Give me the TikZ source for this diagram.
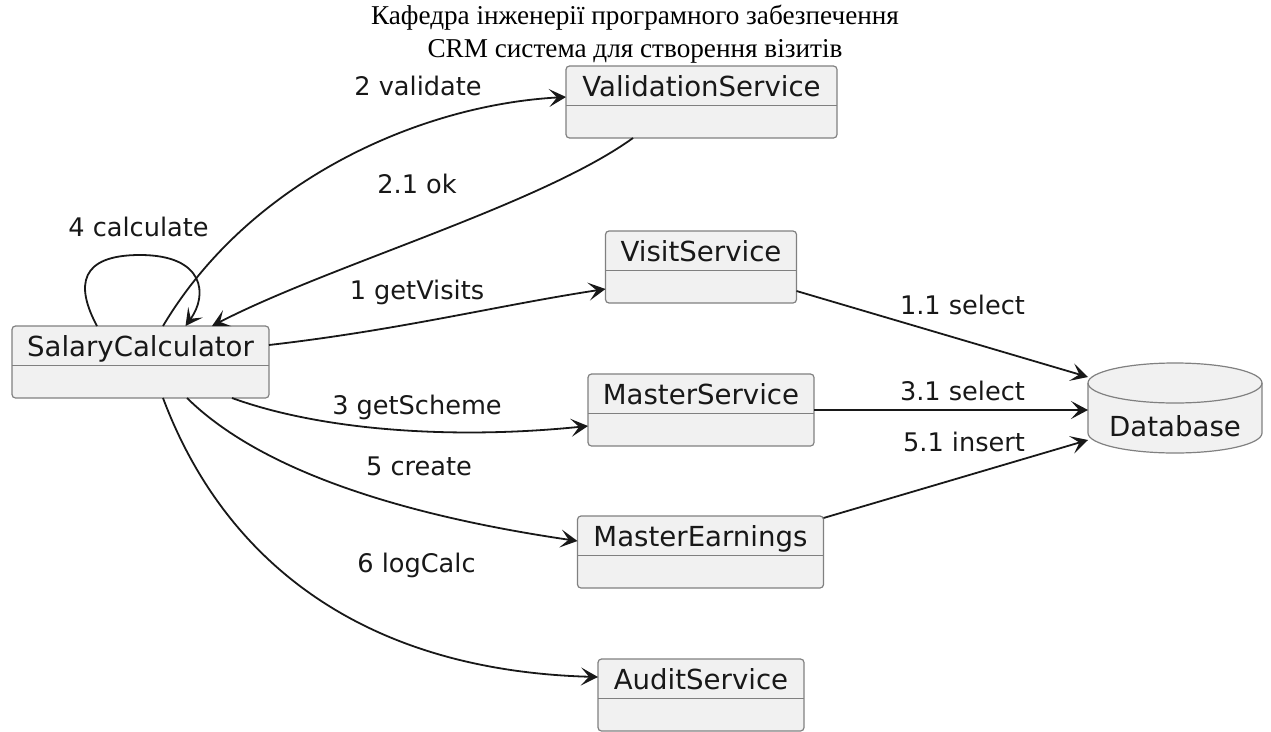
\documentclass[tikz,border=0pt]{standalone}
\usepackage{fontspec}
\setmainfont{DejaVu Sans}
\newfontfamily\ttlfamily{Liberation Serif}
\usetikzlibrary{arrows.meta,calc}

\definecolor{classfill}{HTML}{F1F1F1}
\definecolor{classline}{HTML}{808080}
\definecolor{ink}{HTML}{181818}

\newcommand\clsfont{\fontsize{27.6pt}{33pt}\selectfont}
\newcommand\lblfont{\fontsize{25.6pt}{31pt}\selectfont}
\newcommand\ttlfont{\ttlfamily\fontsize{27.2pt}{33pt}\selectfont}

\tikzset{
  classbox/.style={draw=classline, fill=classfill, line width=1.2pt,
    rounded corners=3.5pt, anchor=north west, inner xsep=0pt, inner ysep=0pt,
    outer sep=0pt, text height=30pt, text depth=42pt, font=\clsfont, text=ink},
  classsep/.style={draw=classline, line width=1.2pt},
  dbshape/.style={draw=classline, fill=classfill, line width=1.2pt},
  msg/.style={draw=ink, line width=1.8pt,
    -{Stealth[length=17pt,width=18pt,inset=8pt]}},
  msglabel/.style={anchor=base, font=\lblfont, text=ink, inner sep=0pt},
  ttl/.style={anchor=base, font=\ttlfont, text=black, inner sep=0pt},
}

\begin{document}
\begin{tikzpicture}[x=1pt, y=-1pt]
\useasboundingbox (0,0) rectangle (1271,731);

% title
\node[ttl] (title1) at (635,24) {Кафедра інженерії програмного забезпечення};
\node[ttl] (title2) at (635,57) {CRM система для створення візитів};

% classes
\node[classbox, minimum width=271pt] (val)  at (566,66)    {ValidationService};
\node[classbox, minimum width=191pt] (vis)  at (605.5,231) {VisitService};
\node[classbox, minimum width=257pt] (sal)  at (12,326)    {SalaryCalculator};
\node[classbox, minimum width=226pt] (mas)  at (588,374)   {MasterService};
\node[classbox, minimum width=246pt] (earn) at (577.5,516) {MasterEarnings};
\node[classbox, minimum width=206pt] (aud)  at (598,659)   {AuditService};

\foreach \c in {val,vis,sal,mas,earn,aud}
  \draw[classsep] ([yshift=-39.5pt]\c.north west) -- ([yshift=-39.5pt]\c.north east);

% database cylinder
\draw[dbshape] (1088,383) -- (1088,433)
  arc[start angle=180, end angle=360, x radius=87pt, y radius=20pt]
  -- (1262,383)
  arc[start angle=0, end angle=180, x radius=87pt, y radius=20pt] -- cycle;
\draw[classsep] (1088,383)
  arc[start angle=180, end angle=360, x radius=87pt, y radius=20pt];
\node[anchor=north west, minimum width=174pt, inner sep=0pt, outer sep=0pt,
  text height=73pt, text depth=17pt, font=\clsfont, text=ink] (db) at (1088,363) {Database};

% messages
\draw[msg] ([xshift=22.5pt]sal.north) .. controls (250,180) and (420,105) .. ([yshift=5pt]val.west);
\draw[msg] ([xshift=-68.5pt]val.south) .. controls (540,205) and (330,265) .. ([xshift=71.5pt]sal.north);
\draw[msg] ([xshift=-43.5pt]sal.north) .. controls (75,285) and (80,255) .. (140,255)
  .. controls (205,255) and (208,295) .. ([xshift=45pt]sal.north);
\draw[msg] ([yshift=17pt]sal.east) .. controls (400,330) and (500,305) .. ([yshift=-22pt]vis.west);
\draw[msg] ([yshift=-24pt]vis.east) -- ([yshift=31pt]db.west);
\draw[msg] ([xshift=91.5pt]sal.south) .. controls (320,430) and (450,440) .. ([yshift=-16pt]mas.west);
\draw[msg] (mas.east) -- ([yshift=-2pt]db.west);
\draw[msg] ([xshift=46.5pt]sal.south) .. controls (260,470) and (400,515) .. ([yshift=11pt]earn.west);
\draw[msg] ([yshift=-2pt]earn.north east) -- ([yshift=-32pt]db.west);
\draw[msg] ([xshift=22.5pt]sal.south) .. controls (220,550) and (350,670) .. ([yshift=18pt]aud.west);

% message labels
\node[msglabel] (l2)  at (418,95)    {2 validate};
\node[msglabel] (l21) at (417,193)   {2.1 ok};
\node[msglabel] (l4)  at (138.5,236) {4 calculate};
\node[msglabel] (l1)  at (417,299)   {1 getVisits};
\node[msglabel] (l11) at (962.5,314) {1.1 select};
\node[msglabel] (l31) at (962.5,400) {3.1 select};
\node[msglabel] (l51) at (964,451)   {5.1 insert};
\node[msglabel] (l3)  at (417,414)   {3 getScheme};
\node[msglabel] (l5)  at (419,475)   {5 create};
\node[msglabel] (l6)  at (416.5,572) {6 logCalc};
\end{tikzpicture}
\end{document}
